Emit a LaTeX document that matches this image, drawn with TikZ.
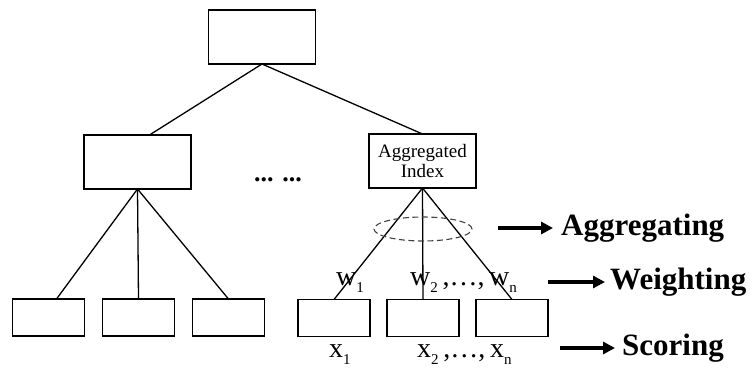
\documentclass[tikz,border=0pt]{standalone}
\usepackage{fontspec}
\setmainfont{Liberation Serif}
\usetikzlibrary{positioning,arrows.meta}
\newcommand{\lowidx}[1]{\raisebox{-7pt}{\fontsize{15}{15}\selectfont #1}}

\begin{document}
\begin{tikzpicture}[
  x=1pt, y=-1pt, node distance=18pt and 18pt,
  box/.style={draw, line width=1.3pt, minimum width=107pt, minimum height=54pt,
    inner sep=0pt, outer sep=0pt, align=center, font=\fontsize{19}{20}\selectfont},
  leaf/.style={box, minimum width=72pt, minimum height=37pt},
  edge/.style={line width=1.3pt},
  grouping/.style={dash pattern=on 6pt off 3.5pt, line width=1.1pt, black!75},
  var/.style={anchor=base west, inner sep=0pt, font=\fontsize{28}{28}\selectfont},
  stage/.style={anchor=west, inner sep=0pt, font=\fontsize{31}{31}\selectfont\bfseries},
  stagearrow/.style={line width=3.5pt, -{Triangle[length=12pt,width=12pt]}},
]
  \useasboundingbox (0,0) rectangle (752,367);

  % tree of boxes
  \node[box] (root) at (262,37) {};
  \node[box] (left) at (137.5,162) {};
  \node[box] (agg) at (422.5,161) {Aggregated\\Index};
  \node[font=\fontsize{26}{26}\selectfont\bfseries] (dots) at (278,180) {... ...};

  \node[leaf] (l1) at (48.5,317.5) {};
  \node[leaf, right=of l1] (l2) {};
  \node[leaf, right=of l2] (l3) {};
  \node[leaf] (r1) at (334,318) {};
  \node[leaf, right=17pt of r1] (r2) {};
  \node[leaf, right=17pt of r2] (r3) {};

  \draw[edge] (root.south) -- ([xshift=12pt]left.north);
  \draw[edge] (root.south) -- (agg.north);
  \draw[edge] (left.south) -- ([xshift=8pt]l1.north);
  \draw[edge] (left.south) -- (l2.north);
  \draw[edge] (left.south) -- (l3.north);
  \draw[edge] (agg.south) -- (r1.north);
  \draw[edge] (agg.south) -- (r2.north);
  \draw[edge] (agg.south) -- (r3.north);

  \coordinate (grp) at (423,229);
  \draw[grouping] (grp) ellipse [x radius=49pt, y radius=12pt];

  % weights and scores
  \node[var] (w1) at (336,285) {w\lowidx{1}};
  \node[var] (wn) at (410,285) {w\lowidx{2}\,,\ldots,\,w\lowidx{n}};
  \node[var] (x1) at (329,357) {x\lowidx{1}};
  \node[var] (xn) at (417,357) {x\lowidx{2}\,,\ldots,\,x\lowidx{n}};

  % stages
  \node[stage] (aggregating) at (561,228) {Aggregating};
  \node[stage] (weighting) at (610,282) {Weighting};
  \node[stage] (scoring) at (622,348) {Scoring};
  \coordinate (aggtail) at (498,228);
  \coordinate (weitail) at (548,282);
  \coordinate (scotail) at (560,348);
  \draw[stagearrow] (aggtail) -- ([xshift=-8pt]aggregating.west);
  \draw[stagearrow] (weitail) -- ([xshift=-5pt]weighting.west);
  \draw[stagearrow] (scotail) -- ([xshift=-7pt]scoring.west);
\end{tikzpicture}
\end{document}
